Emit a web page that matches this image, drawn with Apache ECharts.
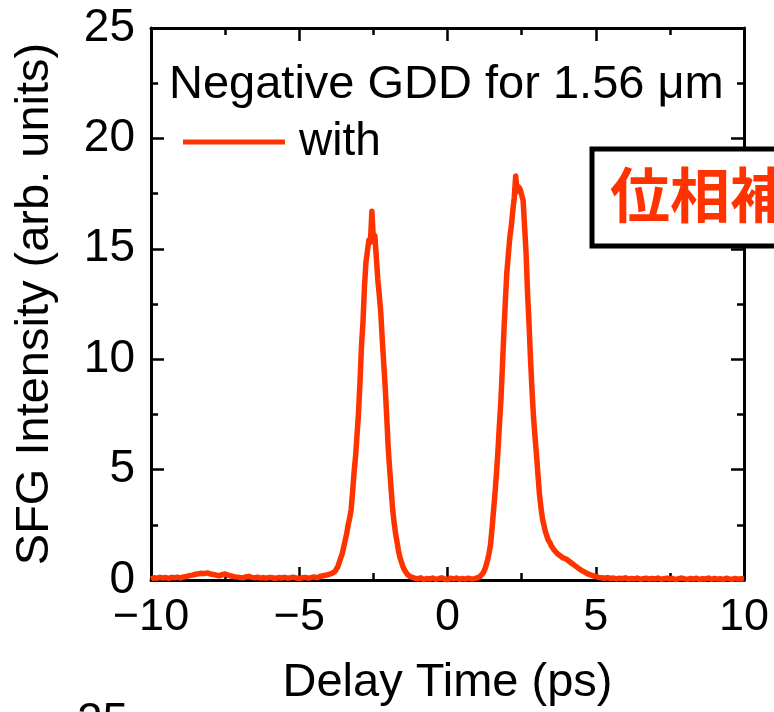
<!DOCTYPE html>
<html>
<head>
<meta charset="utf-8">
<script src="https://cdn.jsdelivr.net/npm/echarts@6/dist/echarts.min.js"></script>
<style>
  html, body { margin: 0; padding: 0; background: #fff; }
  #chart { width: 774px; height: 712px; }
</style>
</head>
<body>
<div id="chart"></div>
<script>
// SFG cross-correlation trace, delay time in ps
const delayTime = [
  -10.0,-9.9,-9.8,-9.7,-9.6,-9.5,-9.4,-9.3,-9.2,-9.1,-9.0,-8.9,-8.8,-8.7,-8.6,-8.5,-8.4,-8.3,-8.2,-8.1,
  -8.0,-7.9,-7.8,-7.7,-7.6,-7.5,-7.4,-7.3,-7.2,-7.1,-7.0,-6.9,-6.8,-6.7,-6.6,-6.5,-6.4,-6.3,-6.2,-6.1,
  -6.0,-5.9,-5.8,-5.7,-5.6,-5.5,-5.4,-5.3,-5.2,-5.1,-5.0,-4.9,-4.8,-4.7,-4.6,-4.5,-4.4,-4.3,-4.2,-4.1,
  -4.0,-3.9,-3.8,
  -3.75,-3.70,-3.65,-3.60,-3.55,-3.50,-3.45,-3.40,-3.35,-3.30,-3.25,-3.20,-3.15,-3.10,-3.05,-3.00,
  -2.95,-2.90,-2.85,-2.80,-2.75,-2.70,-2.65,-2.60,-2.55,-2.50,-2.45,-2.40,-2.35,-2.30,-2.25,-2.20,
  -2.15,-2.10,-2.05,-2.00,-1.95,-1.90,-1.85,-1.80,-1.75,-1.70,-1.65,-1.60,-1.55,-1.50,-1.45,-1.40,
  -1.35,-1.30,-1.25,-1.20,
  -1.1,-1.0,-0.9,-0.8,-0.7,-0.6,-0.5,-0.4,-0.3,-0.2,-0.1,0.0,0.1,0.2,0.3,0.4,0.5,0.6,0.7,0.8,0.9,1.0,
  1.05,1.10,1.15,1.20,1.25,1.30,1.35,1.40,1.45,1.50,1.55,1.60,1.65,1.70,1.75,1.80,1.85,1.90,1.95,2.00,
  2.05,2.10,2.15,2.20,2.25,2.30,2.35,2.40,2.45,2.50,2.55,2.60,2.65,2.70,2.75,2.80,2.85,2.90,2.95,3.00,
  3.05,3.10,3.15,3.20,3.25,3.30,3.35,3.40,3.45,3.50,3.55,3.60,3.65,3.70,3.75,3.80,
  3.9,4.0,4.1,4.2,4.3,4.4,4.5,4.6,4.7,4.8,4.9,5.0,5.1,5.2,5.3,5.4,5.5,5.6,5.7,5.8,5.9,
  6.0,6.1,6.2,6.3,6.4,6.5,6.6,6.7,6.8,6.9,7.0,7.1,7.2,7.3,7.4,7.5,7.6,7.7,7.8,7.9,
  8.0,8.1,8.2,8.3,8.4,8.5,8.6,8.7,8.8,8.9,9.0,9.1,9.2,9.3,9.4,9.5,9.6,9.7,9.8,9.9,10.0
];

// SFG intensity (arb. units), with negative GDD compensation
const sfgWith = [
  0.05,0.10,0.08,0.12,0.09,0.11,0.07,0.12,0.10,0.13,0.09,0.14,0.16,0.20,0.22,0.26,0.28,0.31,0.29,0.32,
  0.27,0.25,0.22,0.19,0.24,0.27,0.22,0.18,0.15,0.13,0.11,0.10,0.14,0.16,0.12,0.10,0.13,0.09,0.11,0.08,
  0.12,0.10,0.07,0.11,0.09,0.12,0.08,0.10,0.13,0.09,0.06,0.10,0.12,0.08,0.11,0.14,0.10,0.16,0.19,0.22,
  0.25,0.30,0.38,
  0.45,0.6,0.8,1.0,1.2,1.5,1.8,2.1,2.5,2.8,3.2,4.0,4.9,5.6,6.6,7.6,
  9.0,10.6,11.7,13.3,14.4,14.9,15.4,15.3,16.7,15.4,15.6,14.6,13.6,12.9,12.1,10.9,
  9.8,8.7,7.4,6.0,5.0,4.1,3.2,2.6,2.1,1.7,1.3,1.0,0.8,0.6,0.45,0.35,
  0.25,0.2,0.15,0.12,
  0.08,0.05,0.10,0.02,0.07,0.04,0.09,0.03,0.06,0.10,0.04,0.01,0.08,0.05,0.09,0.03,0.07,0.04,0.08,0.05,0.06,0.09,
  0.12,0.16,0.22,0.32,0.45,0.65,0.9,1.2,1.6,2.3,3.1,3.9,4.8,5.8,7.0,8.1,9.6,11.2,12.6,13.9,
  14.7,15.5,16.0,16.7,17.3,18.3,17.6,17.8,17.7,17.7,17.2,16.0,14.8,13.0,11.6,10.0,8.6,7.4,6.5,5.7,
  4.8,3.9,3.3,2.8,2.5,2.2,2.0,1.8,1.7,1.55,1.45,1.35,1.3,1.2,1.15,1.1,
  1.0,0.95,0.85,0.75,0.65,0.55,0.45,0.38,0.3,0.24,0.2,0.15,0.12,0.1,0.08,0.11,0.07,0.09,0.05,0.08,0.06,
  0.10,0.04,0.07,0.05,0.09,0.03,0.06,0.08,0.04,0.07,0.05,0.09,0.03,0.06,0.08,0.04,0.07,0.02,0.06,0.09,
  0.05,0.03,0.07,0.04,0.08,0.02,0.06,0.05,0.09,0.03,0.07,0.04,0.06,0.02,0.08,0.05,0.03,0.07,0.04,0.06,0.05
];

const xTicks = { min: -10, max: 10, step: 5 };
const yTicks = { min: 0, max: 25, step: 5 };

const seriesName = 'with';
const headingText = 'Negative GDD for 1.56 μm';
const badgeText = '位相補償';
const xTitle = 'Delay Time (ps)';
const yTitle = 'SFG Intensity (arb. units)';

const FONT = '"Liberation Sans", Arial, sans-serif';
const RED = '#ff3300';

const minus = v => String(v).replace('-', '\u2212');

const tickStyle = {
  show: true, inside: true, length: 13,
  lineStyle: { color: '#000', width: 2.5 }
};
const minorStyle = {
  show: true, splitNumber: 2, length: 7,
  lineStyle: { color: '#000', width: 2.5 }
};
const lineStyle = { show: true, onZero: false, lineStyle: { color: '#000', width: 3 } };

const chart = echarts.init(document.getElementById('chart'), null, { renderer: 'canvas' });

const pairs = delayTime.map((t, i) => [t, sfgWith[i]]);

chart.setOption({
  backgroundColor: '#fff',
  animation: false,
  grid: { left: 151, right: 30, top: 28, bottom: 128, containLabel: false },
  title: {
    text: headingText,
    left: 164, top: 57,
    textStyle: { fontFamily: FONT, fontSize: 47, fontWeight: 'normal', color: '#000' }
  },
  legend: {
    data: [seriesName],
    left: 178, top: 114,
    icon: 'rect',
    itemWidth: 102, itemHeight: 5,
    textStyle: { fontFamily: FONT, fontSize: 46, color: '#000', padding: [0, 0, 0, 9] }
  },
  xAxis: [
    {
      type: 'value', min: xTicks.min, max: xTicks.max, interval: xTicks.step,
      position: 'bottom',
      axisLine: lineStyle, axisTick: tickStyle, minorTick: minorStyle,
      splitLine: { show: false },
      axisLabel: { fontFamily: FONT, fontSize: 45, color: '#000', margin: 15, formatter: minus },
      name: xTitle, nameLocation: 'middle', nameGap: 80,
      nameTextStyle: { fontFamily: FONT, fontSize: 47, color: '#000' }
    },
    {
      type: 'value', min: xTicks.min, max: xTicks.max, interval: xTicks.step,
      position: 'top',
      axisLine: lineStyle, axisTick: tickStyle, minorTick: minorStyle,
      splitLine: { show: false }, axisLabel: { show: false }
    }
  ],
  yAxis: [
    {
      type: 'value', min: yTicks.min, max: yTicks.max, interval: yTicks.step,
      position: 'left',
      axisLine: lineStyle, axisTick: tickStyle, minorTick: minorStyle,
      splitLine: { show: false },
      axisLabel: { fontFamily: FONT, fontSize: 46, color: '#000', margin: 16, formatter: minus },
      name: yTitle, nameLocation: 'middle', nameGap: 92, nameRotate: 90,
      nameTextStyle: { fontFamily: FONT, fontSize: 47, color: '#000' }
    },
    {
      type: 'value', min: yTicks.min, max: yTicks.max, interval: yTicks.step,
      position: 'right',
      axisLine: lineStyle, axisTick: tickStyle, minorTick: minorStyle,
      splitLine: { show: false }, axisLabel: { show: false }
    }
  ],
  series: [
    {
      name: seriesName,
      type: 'line',
      xAxisIndex: 0, yAxisIndex: 0,
      data: pairs,
      showSymbol: false,
      symbol: 'none',
      lineStyle: { color: RED, width: 5.5, join: 'round' },
      itemStyle: { color: RED },
      z: 3
    }
  ],
  graphic: [
    {
      type: 'rect', z: 100,
      shape: { x: 592, y: 149, width: 220, height: 97 },
      style: { fill: '#fff', stroke: '#000', lineWidth: 5 }
    },
    {
      type: 'text', z: 101,
      left: 610, top: 165,
      style: {
        text: badgeText,
        font: 'bold 60px "Noto Sans CJK JP", sans-serif',
        fill: RED
      }
    },
    {
      type: 'text', z: 101,
      left: 77, top: 699,
      style: { text: '25', font: '46px "Liberation Sans", Arial, sans-serif', fill: '#000' }
    }
  ]
});
</script>
</body>
</html>
